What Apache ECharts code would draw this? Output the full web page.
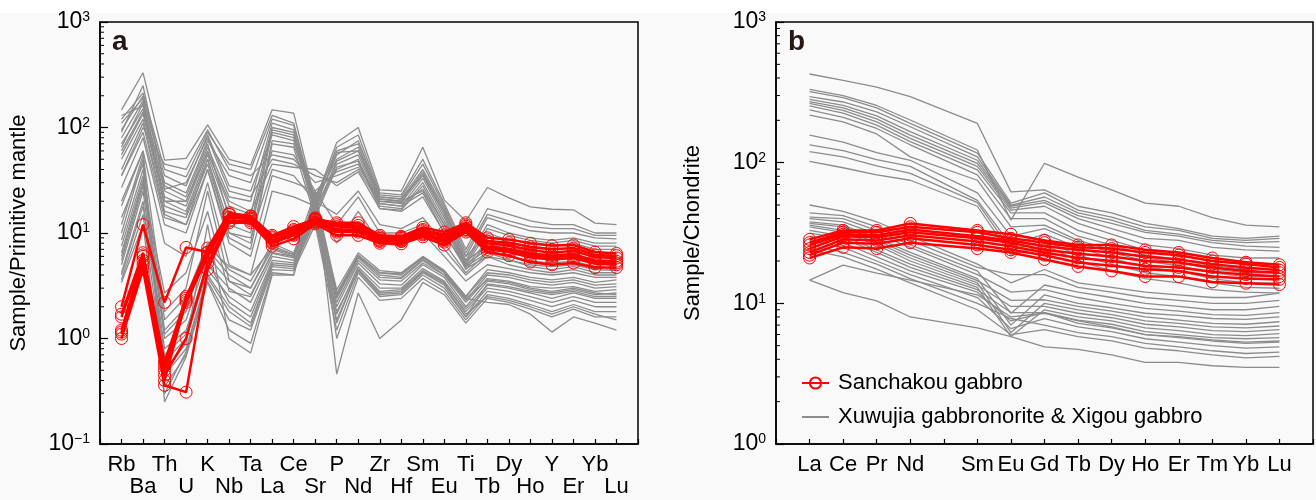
<!DOCTYPE html>
<html><head><meta charset="utf-8">
<script src="https://cdn.jsdelivr.net/npm/echarts@6/dist/echarts.min.js"></script>
<style>html,body{margin:0;padding:0;background:#fff}#c{width:1316px;height:500px}</style>
</head><body><div id="c"></div>
<script>
// ---------- categories ----------
const elementsA = ['Rb','Ba','Th','U','K','Nb','Ta','La','Ce','Sr','P','Nd','Zr','Hf','Sm','Eu','Ti','Tb','Dy','Ho','Y','Er','Yb','Lu'];
const elementsB = ['La','Ce','Pr','Nd','','Sm','Eu','Gd','Tb','Dy','Ho','Er','Tm','Yb','Lu'];
const nameRed = 'Sanchakou gabbro';
const nameGray = 'Xuwujia gabbronorite & Xigou gabbro';

// ---------- panel a: primitive-mantle normalised ----------
const sanchakouA = [
  [2.0, 12, 2.2, 7.3, 6.6, 15, 14.5, 9.5, 11.5, 13.5, 12.5, 12.5, 9.5, 9.3, 11.3, 10.2, 12.5, 9.0, 8.7, 8.0, 7.6, 7.7, 6.6, 6.4],
  [1.0, 4.5, 0.36, 0.31, 4.5, 12.5, 12.5, 7.5, 8.8, 12.2, 9.5, 9.5, 8.0, 7.9, 9.2, 7.7, 10.2, 6.6, 6.1, 5.3, 5.0, 5.2, 4.7, 4.7],
  [1.1, 5.0, 0.45, 1.0, 5.2, 13, 13, 8.0, 9.5, 12.8, 10.2, 10.2, 8.3, 8.3, 9.6, 8.2, 10.6, 7.0, 6.6, 5.9, 5.6, 5.8, 5.1, 5.0],
  [1.2, 5.5, 0.5, 2.2, 6.0, 14, 13.5, 8.5, 10, 13.2, 10.8, 10.8, 8.6, 8.6, 10.0, 8.7, 11.2, 7.5, 7.1, 6.4, 6.1, 6.3, 5.5, 5.4],
  [1.6, 6.0, 0.55, 2.5, 6.5, 15, 14, 9.0, 10.5, 13.6, 11.5, 11.2, 8.9, 8.9, 10.5, 9.2, 11.6, 8.0, 7.6, 6.9, 6.5, 6.8, 5.9, 5.8],
  [1.7, 6.5, 0.6, 2.4, 7.2, 15.5, 14.5, 9.2, 10.8, 13.9, 12, 11.8, 9.2, 9.1, 10.8, 9.6, 12.0, 8.4, 8.1, 7.4, 7.0, 7.2, 6.2, 6.1],
  [1.15, 6.2, 0.4, 2.3, 6.0, 14.2, 13.8, 8.2, 9.7, 12.6, 10.5, 10.5, 8.5, 8.4, 9.8, 8.5, 10.8, 7.3, 6.9, 6.2, 5.9, 6.1, 5.3, 5.2]
];
const xuwujiaA = [
  [147, 330, 49, 51, 106, 50, 44, 147, 137, 20, 72, 100, 25.6, 25, 65, 20.5, 13, 27, 21.5, 17.7, 16.8, 16.6, 12.4, 12],
  [120, 213, 40, 34, 90, 45, 40, 130, 110, 19, 65, 85, 24, 23, 50, 19, 7, 17, 15, 13, 12, 12, 10, 10],
  [95, 200, 30, 24, 75, 35, 30, 120, 105, 18, 55, 75, 23, 22, 45, 18, 6.5, 15, 13, 11.5, 11, 11, 9.5, 9.5],
  [80, 180, 25, 20, 65, 22, 20, 110, 95, 17, 60, 70, 22, 21, 40, 17, 6, 14, 12, 10.5, 10, 10, 9, 8.8],
  [130, 160, 22, 18, 60, 18, 15, 100, 90, 20, 50, 65, 21, 20, 38, 16, 5.5, 12, 10, 9, 8.5, 9, 8, 8],
  [70, 150, 20, 16, 55, 15, 12, 95, 85, 16, 48, 60, 20, 19.5, 35, 15, 5.2, 11, 9.5, 8.5, 8, 8.5, 7.5, 7.5],
  [60, 140, 18, 15, 50, 12, 10, 90, 80, 15, 45, 55, 19, 18, 33, 14, 5, 10, 8.5, 8, 7.5, 8, 7, 7],
  [110, 190, 35, 28, 85, 28, 25, 85, 75, 22, 58, 60, 22, 21, 36, 16, 6, 9.5, 8.2, 7.2, 7, 7.2, 6.5, 6.4],
  [50, 120, 16, 14, 45, 10, 8, 75, 70, 18, 40, 50, 18, 17, 30, 13, 4.8, 8.5, 7.5, 6.5, 6.2, 6.5, 6, 6],
  [40, 110, 15, 12, 40, 9, 7, 70, 65, 14, 42, 48, 17, 16.5, 28, 12, 4.5, 8, 7, 6, 5.8, 6, 5.5, 5.5],
  [90, 250, 28, 22, 70, 14, 12, 60, 55, 25, 38, 45, 20, 19, 26, 12, 5.5, 7.5, 6.5, 5.8, 5.5, 5.8, 5.2, 5],
  [35, 100, 45, 40, 95, 40, 35, 55, 50, 30, 35, 42, 21, 20, 25, 11, 5, 7, 6, 5.2, 5, 5.2, 4.6, 4.5],
  [65, 170, 26, 30, 80, 25, 22, 50, 45, 35, 30, 40, 19, 18, 24, 10, 4.8, 6.5, 5.6, 4.8, 4.5, 4.8, 4.2, 4.2],
  [55, 135, 20, 20, 58, 20, 16, 45, 42, 40, 28, 38, 17, 16, 22, 10, 4.6, 6, 5, 4.5, 4.2, 4.5, 4, 4],
  [27, 80, 12, 10, 40, 8, 6, 35, 30, 25, 12, 22, 10, 10, 12, 7, 4, 6, 5.5, 5, 4.8, 5, 4.5, 4.4],
  [18, 60, 8, 6, 30, 5, 4, 25, 22, 18, 8, 16, 8, 7.5, 10, 6, 3.5, 5, 4.6, 4.2, 4, 4.2, 3.8, 3.8],
  [35, 90, 14, 12, 50, 10, 9, 40, 35, 20, 15, 25, 12, 11, 14, 8, 4.2, 6.5, 6, 5.4, 5.2, 5.4, 4.8, 4.6],
  [8.6, 40, 1.5, 2.5, 8, 4.5, 3.5, 8, 6.5, 20, 2.9, 6.5, 4.4, 4.2, 6, 4.4, 2.5, 4.2, 4, 3.6, 3.4, 3.6, 3.2, 3.3],
  [7.5, 35, 1.2, 2, 7, 4, 3, 7, 6, 18, 2.5, 6, 4, 3.8, 5.6, 4.2, 2.3, 4, 3.8, 3.4, 3.2, 3.4, 3, 3.1],
  [6, 30, 1.0, 1.5, 6, 3.5, 2.6, 6.4, 5.8, 16, 2.2, 5.5, 3.6, 3.5, 5.2, 4, 2.2, 3.7, 3.5, 3.1, 3, 3.1, 2.8, 2.9],
  [5, 25, 0.8, 1.2, 5, 3, 2.2, 6, 5.5, 15, 2, 5.2, 3.3, 3.2, 5, 3.8, 2, 3.5, 3.3, 2.9, 2.7, 2.9, 2.6, 2.7],
  [4.2, 20, 0.6, 1, 4.5, 2.5, 1.8, 5.5, 5.2, 14, 1.7, 4.8, 3, 3, 4.6, 3.5, 1.9, 3.2, 3, 2.7, 2.4, 2.7, 2.4, 2.4],
  [3.6, 15, 0.45, 0.8, 4, 2, 1.4, 5, 4.8, 13, 1.5, 4.5, 2.7, 2.8, 4.3, 3.3, 1.8, 3, 2.8, 2.5, 2.2, 2.5, 2.2, 2.2],
  [10, 50, 0.35, 0.7, 3.5, 1.5, 1.2, 4.5, 4.4, 12, 1.2, 4.2, 2.5, 2.6, 4, 3, 1.6, 2.8, 2.6, 2.3, 2, 2.3, 2, 2],
  [20, 60, 0.25, 0.67, 3.4, 1.2, 0.9, 4.2, 4, 22, 1.0, 3.8, 2.3, 2.4, 3.7, 2.8, 1.5, 2.6, 2.4, 2.1, 1.8, 2.1, 1.8, 1.8],
  [14, 45, 0.5, 0.9, 12, 1.0, 0.73, 4.0, 4.0, 25, 0.46, 2.7, 1.0, 1.5, 3.4, 2.6, 1.4, 2.4, 2.2, 1.9, 1.6, 1.9, 1.6, 1.6],
  [5.5, 28, 2.7, 4.2, 16, 2.8, 2.5, 6.5, 6, 17, 2.4, 5.8, 3.8, 3.7, 5.5, 4, 2.4, 2.2, 2.1, 1.7, 1.15, 1.6, 1.4, 1.2],
  [12, 55, 1.8, 3, 25, 3.5, 3, 7.5, 6.3, 24, 2.7, 6.2, 4.2, 4, 5.8, 4.3, 2.4, 3.6, 3.4, 3, 2.8, 3, 2.7, 2.6],
  [4, 18, 0.7, 1.1, 5.5, 2.2, 1.6, 5.2, 5, 15, 1.4, 4.6, 2.8, 2.9, 4.4, 3.4, 1.7, 2.5, 2.3, 2, 1.7, 2, 1.7, 1.5],
  [3.4, 12, 0.3, 0.75, 3.8, 1.8, 1.3, 4.8, 4.6, 14, 1.8, 4.4, 2.6, 2.7, 4.2, 3.2, 1.6, 3.3, 3.1, 2.8, 2.6, 2.8, 2.5, 2.5],
  [6.5, 32, 1.1, 1.8, 7.5, 4.8, 4, 7.2, 6.2, 19, 2.6, 6.1, 4.2, 4.1, 5.9, 4.4, 2.5, 4.5, 4.2, 3.8, 3.6, 3.8, 3.4, 3.6]
];

// ---------- panel b: chondrite normalised (Pm = null) ----------
const sanchakouB = [
  [28.5, 33, 33, 37, null, 33, 31, 28, 26, 26, 24, 23, 21, 19.6, 18.8],
  [27, 32, 32, 35, null, 32, 29, 27, 25, 24.5, 23, 22, 20, 19, 18],
  [26, 31, 30.5, 33.5, null, 30, 28, 25.5, 24, 23, 21.5, 20.5, 19, 18, 17.2],
  [24.5, 30, 29.5, 32, null, 29, 27, 24, 22.5, 21.5, 20, 19.5, 18, 17, 16.5],
  [23, 28.5, 28, 30.5, null, 27.5, 25.5, 23, 21, 20, 18.5, 18, 16.8, 16, 15.5],
  [22, 27, 26.5, 29, null, 26, 24, 22, 19.5, 18.5, 17.5, 17, 15.5, 15, 14.8],
  [21, 25, 24.5, 27, null, 24.5, 23, 20.5, 18.3, 17, 15.5, 15.5, 14.2, 13.9, 13.6]
];
const xuwujiaB = [
  [427, 385, 345, 295, null, 190, 62, 64, 49, 44, 37, 34, 30, 29, 30],
  [332, 300, 255, 201, null, 123, 39, 99, 79, 64, 51.5, 49, 40.6, 36, 35],
  [320, 290, 245, 190, null, 117, 51.5, 61, 46, 41, 35, 33, 29, 28, 29],
  [295, 270, 230, 180, null, 110, 50, 57, 44, 39, 33, 31, 28, 27, 27.5],
  [282, 255, 215, 166, null, 104, 49, 54, 42, 37, 32, 30, 27, 25.5, 25],
  [272, 245, 205, 157, null, 99, 47.5, 52, 40, 34, 29, 28, 25, 24, 23.5],
  [264, 235, 195, 149, null, 94, 46, 49, 37, 31, 26, 24.5, 22, 21, 21],
  [253, 225, 185, 141, null, 89, 44, 44, 33, 28, 24, 22, 20, 19, 19],
  [237, 210, 175, 134, null, 82, 40, 40, 30, 26, 22, 20.5, 18.5, 17.5, 17.5],
  [218, 195, 160, 110, null, 75, 35, 36, 28, 24, 21, 19.5, 17.5, 16.5, 16.5],
  [157, 140, 118, 104, null, 61, 30, 34, 27, 23, 20, 18.5, 16.5, 15.5, 15.5],
  [134, 122, 105, 94, null, 54, 26, 31, 25, 21, 18, 17, 15, 14, 14],
  [120, 110, 95, 84, null, 52, 24, 28, 22, 19, 16.5, 15.5, 14, 13, 12.8],
  [102, 92, 82, 75, null, 49, 22, 26, 20, 17, 15, 14, 12.5, 12, 11.8],
  [50, 45, 38, 30, null, 19, 14, 17.4, 14, 13, 12, 11.5, 11, 11, 11.8],
  [44, 42, 35, 28, null, 18, 16, 16, 13, 12, 11, 10.5, 10, 10, 10.5],
  [41, 40, 33, 26, null, 17, 8.5, 13.5, 12, 11, 10, 9.5, 9, 9, 9.5],
  [40, 38, 31, 25, null, 16, 12, 12.5, 11, 10, 9.2, 8.8, 8.3, 8.2, 8.6],
  [38, 36, 29, 23, null, 15, 7, 11.5, 10, 9.3, 8.5, 8.2, 7.8, 7.7, 8],
  [37, 35, 28, 22, null, 14.5, 10.5, 10.6, 9.5, 8.8, 8, 7.6, 7.2, 7.1, 7.4],
  [36, 33, 27, 21, null, 14, 6.2, 10, 9, 8.3, 7.5, 7.2, 6.8, 6.7, 6.9],
  [35, 32, 26, 20, null, 13.5, 9.5, 9.5, 8.5, 7.9, 7.1, 6.8, 6.4, 6.3, 6.5],
  [33, 30, 24, 19, null, 13, 5.8, 9, 8, 7.5, 6.7, 6.4, 6, 5.9, 6.1],
  [31.6, 29, 23, 18, null, 12.5, 8.6, 8.6, 7.6, 7.1, 6.3, 6, 5.7, 5.6, 5.7],
  [30, 27, 21.4, 17, null, 12, 7.5, 8.6, 7.2, 6.7, 6, 5.7, 5.4, 5.2, 5.3],
  [28, 25, 20, 16, null, 11, 6.6, 7.8, 6.8, 6.3, 5.6, 5.3, 5, 4.8, 4.9],
  [26, 23, 19, 15, null, 10, 7.8, 7, 6.2, 5.8, 5.2, 4.9, 4.6, 4.4, 4.5],
  [24, 21.4, 17.5, 14, null, 9, 6, 6.5, 5.8, 5.4, 4.8, 4.6, 4.3, 4.1, 4.2],
  [14.6, 18.7, 16.4, 14.6, null, 11.5, 8, 8.5, 7.5, 6.8, 6, 5.8, 5.5, 5.3, 5.4],
  [14.6, 11.9, 10.4, 8, null, 6.7, 5.8, 4.9, 4.7, 4.3, 3.8, 3.8, 3.6, 3.5, 3.5]
];

// ---------- axis ranges ----------
const yRangeA = [0.1, 1000];
const yRangeB = [1, 1000];
const minorMultipliers = [2, 3, 4, 5, 6, 7, 8, 9];

const FONT = '"Liberation Sans", Arial, Helvetica, sans-serif';
const RED = '#ff0000';
const GRAY = '#8c8c8c';

function toPoints(row) {
  const pts = [];
  row.forEach((v, i) => { if (v !== null) pts.push([i, v]); });
  return pts;
}
function graySeries(row, ax) {
  return { type: 'line', name: nameGray, xAxisIndex: ax, yAxisIndex: ax, data: toPoints(row),
    symbol: 'none', silent: true, z: 2,
    lineStyle: { color: GRAY, width: 1.3 }, itemStyle: { color: GRAY, opacity: 0 } };
}
function redSeries(row, ax) {
  return { type: 'line', name: nameRed, xAxisIndex: ax, yAxisIndex: ax, data: toPoints(row),
    symbol: 'circle', symbolSize: 12, silent: true, z: 4,
    lineStyle: { color: RED, width: 2.5 },
    itemStyle: { color: 'rgba(255,0,0,0)', borderColor: RED, borderWidth: 1 } };
}
function minorTicks(ax, range, xmin) {
  const d = [];
  const lo = Math.round(Math.log10(range[0])), hi = Math.round(Math.log10(range[1]));
  for (let e = lo; e < hi; e++) minorMultipliers.forEach(m => d.push([xmin, m * Math.pow(10, e)]));
  return { type: 'custom', xAxisIndex: ax, yAxisIndex: ax, data: d, silent: true, z: 10, clip: false,
    renderItem: (p, api) => {
      const pt = api.coord([api.value(0), api.value(1)]);
      return { type: 'line', shape: { x1: pt[0], y1: pt[1], x2: pt[0] + 4, y2: pt[1] },
        style: { stroke: '#000', lineWidth: 1 } };
    } };
}
function yAxis(ax, range, title, gap) {
  return { type: 'log', logBase: 10, gridIndex: ax, min: range[0], max: range[1],
    name: title, nameLocation: 'middle', nameGap: gap, nameRotate: 90,
    nameTextStyle: { fontSize: 22, fontFamily: FONT, color: '#000' },
    axisLine: { show: true, onZero: false, lineStyle: { color: '#000', width: 1.5 } },
    axisTick: { show: true, inside: true, length: 8, lineStyle: { color: '#000', width: 1.2 } },
    splitLine: { show: false },
    axisLabel: { margin: 10, color: '#000',
      formatter: v => { const e = Math.round(Math.log10(v)); return '{b|10}{s|' + (e < 0 ? '\u2212' + (-e) : e) + '}'; },
      rich: { b: { fontSize: 23, fontFamily: FONT, color: '#000' },
              s: { fontSize: 14, fontFamily: FONT, color: '#000', verticalAlign: 'top' } } } };
}
function xAxis(ax, labels, stagger) {
  return { type: 'value', gridIndex: ax, min: -1, max: labels.length, interval: 1,
    axisLine: { show: true, onZero: false, lineStyle: { color: '#000', width: 1.5 } },
    axisTick: { show: true, inside: true, length: 5, lineStyle: { color: '#000', width: 1.2 } },
    splitLine: { show: false },
    axisLabel: { margin: 10, fontSize: 22, lineHeight: 22, fontFamily: FONT, color: '#000',
      showMinLabel: true, showMaxLabel: true,
      formatter: v => { const i = Math.round(v); if (i < 0 || i >= labels.length) return '';
        return (stagger && i % 2 === 1) ? '\n' + labels[i] : labels[i]; } } };
}

const series = [];
xuwujiaA.forEach(r => series.push(graySeries(r, 0)));
xuwujiaB.forEach(r => series.push(graySeries(r, 1)));
sanchakouA.forEach(r => series.push(redSeries(r, 0)));
sanchakouB.forEach(r => series.push(redSeries(r, 1)));
series.push(minorTicks(0, yRangeA, -1));
series.push(minorTicks(1, yRangeB, -1));

const chart = echarts.init(document.getElementById('c'), null, { renderer: 'canvas' });
chart.setOption({
  animation: false,
  backgroundColor: '#f9f9f9',
  textStyle: { fontFamily: FONT },
  grid: [
    { left: 100, top: 22, width: 538, height: 422, show: true, borderColor: '#000', borderWidth: 1.5, backgroundColor: 'transparent' },
    { left: 776, top: 22, width: 538, height: 422, show: true, borderColor: '#000', borderWidth: 1.5, backgroundColor: 'transparent' }
  ],
  xAxis: [ xAxis(0, elementsA, true), xAxis(1, elementsB, false) ],
  yAxis: [ yAxis(0, yRangeA, 'Sample/Primitive mantle', 70), yAxis(1, yRangeB, 'Sample/Chondrite', 72) ],
  legend: { show: true, orient: 'vertical', left: 796, top: 367, itemWidth: 27, itemHeight: 14, itemGap: 12,
    selectedMode: false,
    data: [ { name: nameRed }, { name: nameGray, itemStyle: { opacity: 0 } } ],
    textStyle: { fontSize: 22, lineHeight: 22, fontFamily: FONT, color: '#000', padding: [0, 0, 0, 4] } },
  graphic: [
    { type: 'rect', left: 0, top: 0, shape: { width: 1316, height: 13 }, style: { fill: '#ffffff' }, silent: true },
    { type: 'text', left: 112, top: 28, style: { text: 'a', fontSize: 28, fontWeight: 'bold', fontFamily: FONT, fill: '#231815' }, silent: true },
    { type: 'text', left: 788, top: 28, style: { text: 'b', fontSize: 28, fontWeight: 'bold', fontFamily: FONT, fill: '#231815' }, silent: true }
  ],
  series: series
});
</script></body></html>
